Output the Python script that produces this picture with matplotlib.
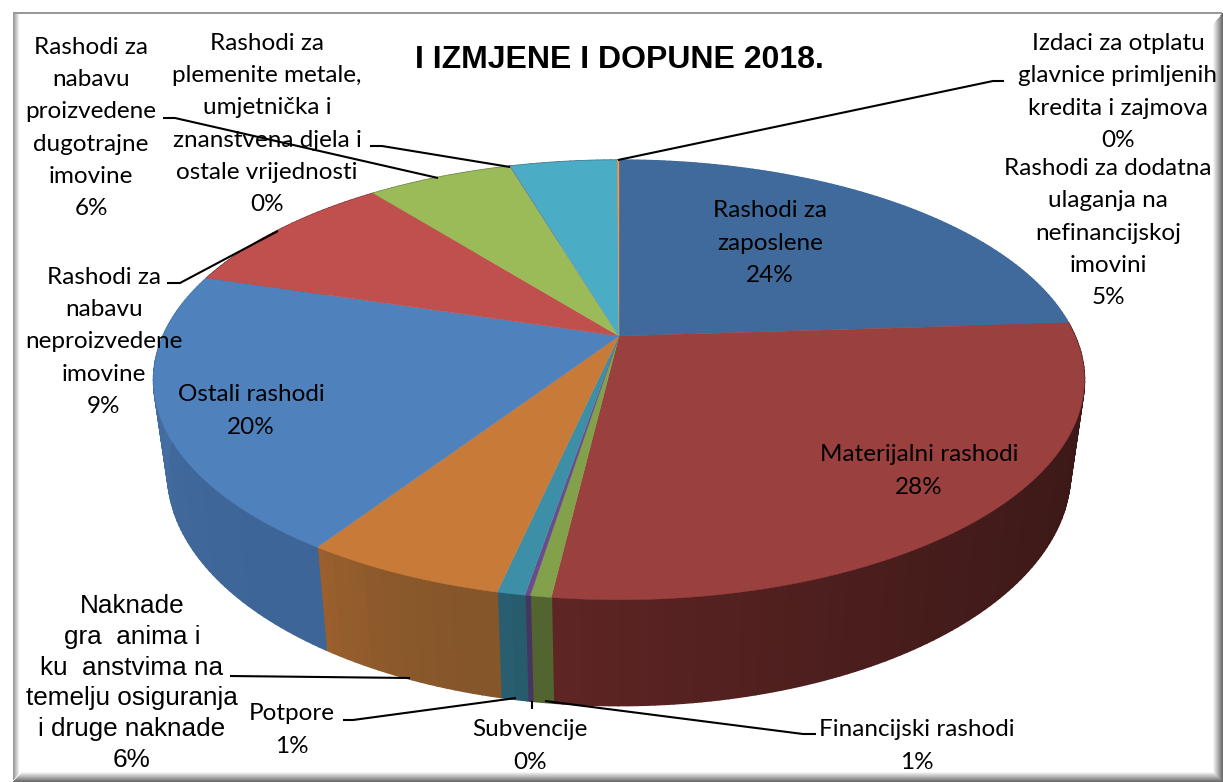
import numpy as np
import matplotlib
matplotlib.use("Agg")
import matplotlib.pyplot as plt
from matplotlib.collections import PolyCollection
from matplotlib.colors import to_rgb
from matplotlib.patches import Polygon, Rectangle

# slices, clockwise from 12 o'clock
categories = [
    "Rashodi za\nzaposlene",
    "Materijalni rashodi",
    "Financijski rashodi",
    "Subvencije",
    "Potpore",
    "Naknade\ngra  anima i\nku  anstvima na\ntemelju osiguranja\ni druge naknade",
    "Ostali rashodi",
    "Rashodi za\nnabavu\nneproizvedene\nimovine",
    "Rashodi za\nnabavu\nproizvedene\ndugotrajne\nimovine",
    "Rashodi za\nplemenite metale,\numjetnička i\nznanstvena djela i\nostale vrijednosti",
    "Rashodi za dodatna\nulaganja na\nnefinancijskoj\nimovini",
    "Izdaci za otplatu\nglavnice primljenih\nkredita i zajmova",
]
shares = [24.0, 27.9, 0.6, 0.15, 0.8, 5.85, 20.4, 9.6, 6.1, 0.02, 4.51, 0.07]
percents = [24, 28, 1, 0, 1, 6, 20, 9, 6, 0, 5, 0]
title = "I IZMJENE I DOPUNE 2018."

top_colors = ["#3F6A9B", "#9A403E", "#83A04A", "#6B4C8A", "#3D8FA8", "#C87A38",
              "#4F81BD", "#C0504D", "#9BBB59", "#8064A2", "#4BACC6", "#F79646"]
side_left = ["#3F6A9B", "#3A1817", "#526530", "#453560", "#265C6C", "#85562A",
             "#3E6597", "#7A3230", "#647A38", "#453560", "#2F7080", "#A06030"]
side_right = ["#3F6A9B", "#5E2524", "#526530", "#453560", "#285E70", "#9A5F2D",
              "#4B78AE", "#7A3230", "#647A38", "#453560", "#2F7080", "#A06030"]

# label centres (x, y) in pixels
label_pos = [(770, 243), (919, 471), (917, 746), (530, 746), (292, 730), (132, 683),
             (251, 411), (104, 342), (91, 128), (267, 124), (1108, 233), (1118, 92)]

leaders = [
    [(816, 734), (803, 734), (545, 701)],
    [(532, 709), (532, 701)],
    [(343, 720), (353, 720), (516, 698)],
    [(230, 676), (410, 678)],
    [(167, 283), (180, 283), (278, 231)],
    [(163, 118), (175, 118), (438, 178)],
    [(370, 146), (382, 146), (510, 167)],
    [(1004, 81), (993, 81), (618, 160)],
]

CX, CY = 619, 336
A, S, K = 456, 211, 0.2


def top_xy(theta):
    x = np.sin(theta)
    y = np.cos(theta)
    w = 1 + K * y
    return CX + A * x / w, CY - S * y / w


def bottom_xy(theta):
    x, y = top_xy(theta)
    return CX + 0.97 * (x - CX), 497 + 1.06 * (y - 403)


fig = plt.figure(figsize=(12.23, 7.82), dpi=100)
ax = fig.add_axes([0, 0, 1, 1])
ax.set_xlim(0, 1223)
ax.set_ylim(782, 0)
ax.axis("off")

# picture frame, bevelled at the corners
for i in range(7):
    g = 0.6 + i * 0.065
    ax.add_patch(Rectangle((13 + i, 12), 1, 768 - i, color=str(g), lw=0))
for i in range(10):
    g = 0.42 + i * 0.06
    ax.add_patch(Rectangle((1222 - i, 13 + i * 1.2), 1, 769 - i * 2.2, color=str(g), lw=0))
    ax.add_patch(Rectangle((13 + i, 781 - i), 1209 - 2 * i, 1, color=str(g), lw=0))
ax.add_patch(Rectangle((13, 12), 1209, 2, color="0.6", lw=0))

edges = np.cumsum([0] + shares) / sum(shares) * 2 * np.pi

# outer wall
for i in range(len(shares)):
    th = np.linspace(edges[i], edges[i + 1], max(3, int((edges[i + 1] - edges[i]) * 60)))
    xt, yt = top_xy(th)
    xb, yb = bottom_xy(th)
    quads = []
    cols = []
    c1, c2 = np.array(to_rgb(side_left[i])), np.array(to_rgb(side_right[i]))
    for j in range(len(th) - 1):
        quads.append([(xt[j], yt[j]), (xt[j + 1], yt[j + 1]), (xb[j + 1], yb[j + 1]), (xb[j], yb[j])])
        cols.append(c1 + (c2 - c1) * (j / max(1, len(th) - 2)) ** 2)
    ax.add_collection(PolyCollection(quads, facecolors=cols, edgecolors=cols, linewidths=1.2, zorder=2))

# top face
for i in range(len(shares)):
    th = np.linspace(edges[i], edges[i + 1], max(3, int((edges[i + 1] - edges[i]) * 120)))
    xt, yt = top_xy(th)
    pts = [(CX, CY)] + list(zip(xt, yt))
    ax.add_patch(Polygon(pts, closed=True, fc=top_colors[i], ec=top_colors[i], lw=0.3, zorder=3))

for line in leaders:
    ax.plot([p[0] for p in line], [p[1] for p in line], color="black", lw=1.5, zorder=4,
            solid_capstyle="butt")

ax.text(619, 60, title, fontsize=23, fontweight="bold", family="Liberation Sans",
        ha="center", va="center", zorder=5)

for i, name in enumerate(categories):
    if name.startswith("Naknade"):
        fam, size, spacing = "Liberation Sans", 18.8, 1.36
    else:
        fam, size, spacing = "Lato", 17.5, 1.66
    ax.text(label_pos[i][0], label_pos[i][1], "%s\n%d%%" % (name, percents[i]), fontsize=size,
            family=fam, ha="center", va="center", linespacing=spacing, color="black", zorder=5)

fig.savefig("out.png", dpi=100)
